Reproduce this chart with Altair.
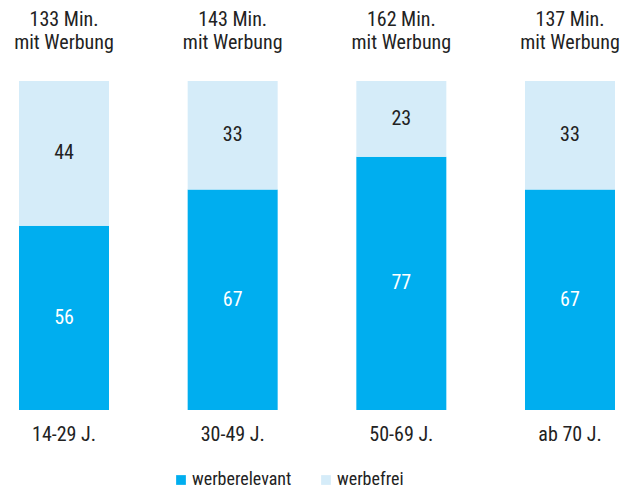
import altair as alt
import pandas as pd

groups = ["14-29 J.", "30-49 J.", "50-69 J.", "ab 70 J."]
minutes = [133, 143, 162, 137]
werberelevant = [56, 67, 77, 67]
werbefrei = [44, 33, 23, 33]
series = ["werberelevant", "werbefrei"]
colors = ["#00AEEF", "#D5ECF9"]

FONT = "Roboto Condensed, Liberation Sans Narrow, DejaVu Sans Condensed, sans-serif"
TXT = "#222222"
FS = 20

rows = []
for g, a, b in zip(groups, werberelevant, werbefrei):
    rows.append({"group": g, "series": series[0], "value": a, "ord": 0})
    rows.append({"group": g, "series": series[1], "value": b, "ord": 1})
df = pd.DataFrame(rows)

top_df = pd.DataFrame({
    "group": groups,
    "line1": [f"{m} Min." for m in minutes],
    "line2": ["mit Werbung"] * len(groups),
    "total": [a + b for a, b in zip(werberelevant, werbefrei)],
})

x = alt.X("group:N", sort=groups, title=None,
          scale=alt.Scale(paddingInner=0.4664, paddingOuter=0),
          axis=alt.Axis(domain=False, ticks=False, labelAngle=0, labelFontSize=FS,
                        labelFont=FONT, labelColor=TXT, labelPadding=14))

base = alt.Chart(df)

bars = base.mark_bar().encode(
    x=x,
    y=alt.Y("value:Q", stack="zero", scale=alt.Scale(domain=[0, 100]), axis=None),
    color=alt.Color("series:N", sort=series,
                    scale=alt.Scale(domain=series, range=colors),
                    legend=alt.Legend(title=None, orient="none", direction="horizontal",
                                      legendX=153, legendY=390, symbolType="square",
                                      symbolSize=95, symbolStrokeWidth=0, padding=0,
                                      labelFont=FONT, labelFontSize=18,
                                      labelColor=TXT, columnPadding=25,
                                      symbolOffset=0, labelOffset=2)),
    order=alt.Order("ord:Q"),
)

labels = base.transform_stack(
    stack="value", groupby=["group"], as_=["y0", "y1"],
    sort=[alt.SortField("ord", order="ascending")]
).transform_calculate(
    mid="(datum.y0 + datum.y1) / 2"
).mark_text(font=FONT, fontSize=FS, baseline="middle").encode(
    x=alt.X("group:N", sort=groups),
    y=alt.Y("mid:Q"),
    text=alt.Text("value:Q"),
    color=alt.Color("series:N", scale=alt.Scale(domain=series, range=["#FFFFFF", TXT]),
                    legend=None),
)

top1 = alt.Chart(top_df).mark_text(font=FONT, fontSize=FS, baseline="alphabetic",
                                   dy=-55, color=TXT).encode(
    x=alt.X("group:N", sort=groups),
    y=alt.Y("total:Q"),
    text="line1:N",
)
top2 = alt.Chart(top_df).mark_text(font=FONT, fontSize=FS, baseline="alphabetic",
                                   dy=-32, color=TXT).encode(
    x=alt.X("group:N", sort=groups),
    y=alt.Y("total:Q"),
    text="line2:N",
)

chart = alt.layer(bars, labels, top1, top2).resolve_scale(color="independent").properties(
    width=596, height=329,
    autosize=alt.AutoSizeParams(type="none"),
    padding={"left": 11, "top": 73, "right": 6, "bottom": 80},
).configure_view(stroke=None)

chart.save("out.html", embed_options={"renderer": "svg", "actions": False})
